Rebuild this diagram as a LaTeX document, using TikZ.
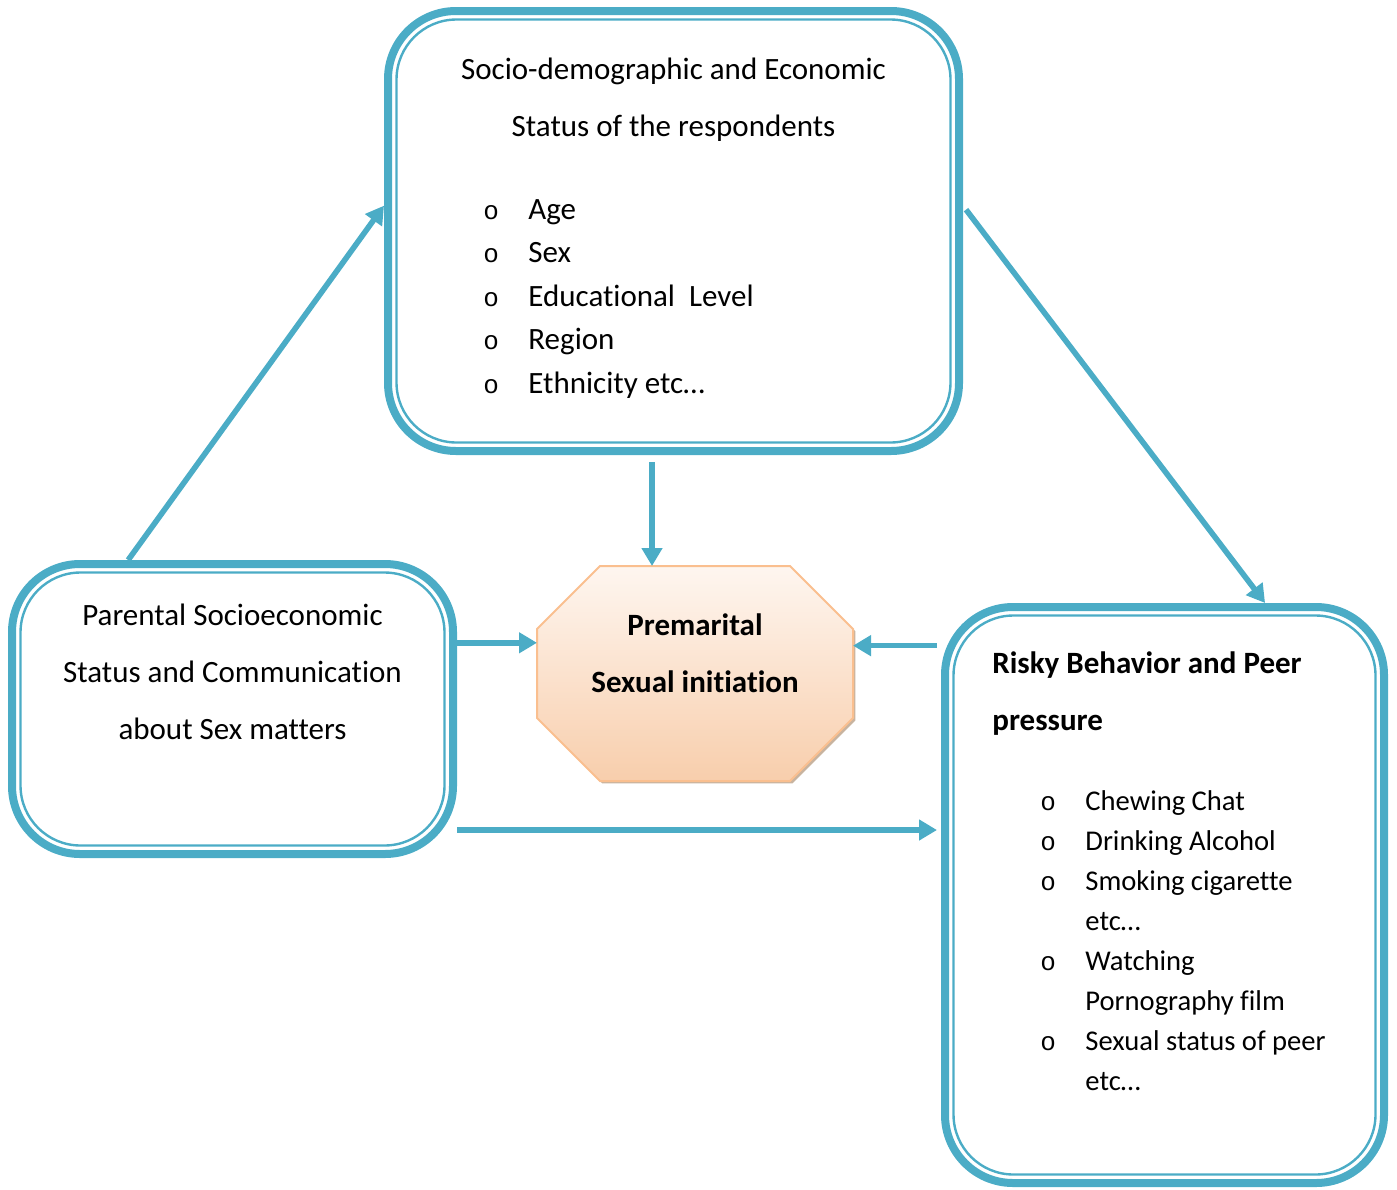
\documentclass[tikz,border=0pt]{standalone}
\usepackage{fontspec}
\setmainfont{Carlito}[Ligatures=NoCommon]
\setmonofont{Liberation Mono}
\definecolor{RimBlue}   {RGB}{75, 172, 198}
\definecolor{PeachEdge} {RGB}{250, 191, 143}
\definecolor{PeachTop}  {RGB}{254, 246, 240}
\definecolor{PeachLow}  {RGB}{248, 206, 172}
\usetikzlibrary{
  arrows.meta,
  shadows
}
\newcommand{\listmark}{\makebox[22.5pt][l]{\fontsize{13}{13}\ttfamily o}}
\newcommand{\listindent}{\hspace*{22.5pt}}

\begin{document}
\begin{tikzpicture}[
  x=0.5pt, y=-0.5pt,
  frame/.style={
    rectangle, draw=RimBlue,
    line width=4pt,
    rounded corners=34pt
  },
  rimin/.style={
    draw=RimBlue, line width=1.2pt,
    rounded corners=30pt
  },
  hubfill/.style={
    draw=PeachEdge, line width=1pt,
    top color=PeachTop, bottom color=PeachLow,
    drop shadow={shadow xshift=1.2pt, shadow yshift=-1.2pt,
      fill=brown!70!black, opacity=.45}
  },
  txt/.style={
    inner sep=0pt,
    font=\fontsize{15.5}{28.5}\selectfont
  },
  items/.style={txt, align=left,
    font=\fontsize{15.5}{21.75}\selectfont},
  link/.style={
    -{Triangle[length=9pt, width=10pt]},
    line width=2.8pt,
    draw=RimBlue}
]
\useasboundingbox (0,0) rectangle (1397,1189);

% frames
\node[frame, minimum width=285.5pt, minimum height=220pt]
  (status) at (673.5,231) {};
\node[frame, minimum width=220.5pt, minimum height=145pt]
  (parent) at (232.5,709) {};
\node[frame, minimum width=219.5pt, minimum height=288pt]
  (risky) at (1164.5,895) {};
\foreach \f in {status,parent,risky}
  \draw[rimin] ([shift={(6.25pt,-6.25pt)}]\f.north west)
    rectangle ([shift={(-6.25pt,6.25pt)}]\f.south east);

% octagon with cut corners
\node[minimum width=157pt, minimum height=106.5pt, outer sep=0.5pt]
  (outcome) at (695,673.5) {};
\path[hubfill]
  ([xshift=31.5pt]outcome.north west) -- ([xshift=-31.5pt]outcome.north east)
  -- ([yshift=-31.5pt]outcome.north east) -- ([yshift=31.5pt]outcome.south east)
  -- ([xshift=-31.5pt]outcome.south east) -- ([xshift=31.5pt]outcome.south west)
  -- ([yshift=31.5pt]outcome.south west) -- ([yshift=-31.5pt]outcome.north west)
  -- cycle;

% texts
\node[txt, anchor=north, align=center] (statusTitle) at (673.5,55)
  {\rule{0pt}{12pt}Socio-demographic and Economic\\
   Status of the respondents};
\node[items, anchor=north west] (statusList) at (483,195)
  {\rule{0pt}{12pt}\listmark Age\\
   \listmark Sex\\
   \listmark Educational~ Level\\
   \listmark Region\\
   \listmark Ethnicity etc…};

\node[txt, anchor=north, align=center] (parentText) at (232.5,601)
  {\rule{0pt}{12pt}Parental Socioeconomic\\
   Status and Communication\\
   about Sex matters};

\node[txt, anchor=north, align=center, font=\fontsize{15.5}{28.5}\selectfont\bfseries]
  (outcomeText) at (695,611)
  {\rule{0pt}{12pt}Premarital\\Sexual initiation};

\node[txt, anchor=north west, align=left, font=\fontsize{15.5}{28.5}\selectfont\bfseries]
  (riskTitle) at (992,649)
  {\rule{0pt}{12pt}Risky Behavior and Peer\\pressure};
\node[items, anchor=north west, font=\fontsize{14.3}{20}\selectfont]
  (riskList) at (1040,786)
  {\rule{0pt}{12pt}\listmark Chewing Chat\\
   \listmark Drinking Alcohol\\
   \listmark Smoking cigarette\\
   \listindent etc…\\
   \listmark Watching\\
   \listindent Pornography film\\
   \listmark Sexual status of peer\\
   \listindent etc…};

% connectors
\draw[link] (parent.125) -- (status.175.5);
\draw[link, shorten <=2.5pt] (status.5.4) -- (risky.71.5);
\draw[link, shorten <=3.5pt] ([xshift=-10.75pt]status.south)
  -- ([xshift=-10.75pt]status.south |- outcome.north);
\draw[link] (parent.east |- outcome.169.5) -- (outcome.169.5);
\draw[link, shorten <=2pt] (risky.west |- outcome.10.5) -- (outcome.10.5);
\draw[link, shorten >=2pt] ([yshift=-60.5pt]parent.east)
  -- ([yshift=-60.5pt]parent.east -| risky.west);
\end{tikzpicture}
\end{document}
